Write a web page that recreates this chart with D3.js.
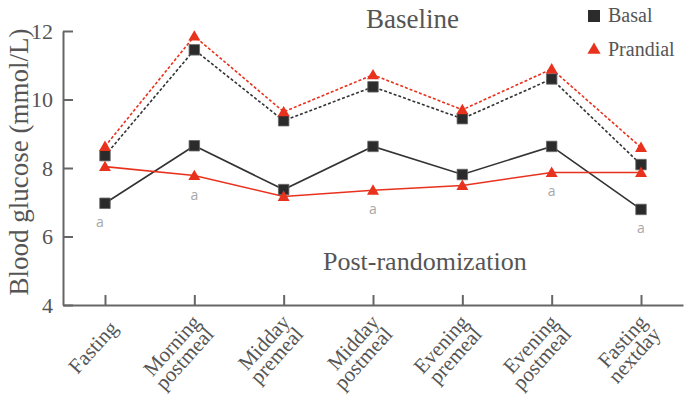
<!DOCTYPE html>
<html>
<head>
<meta charset="utf-8">
<script src="https://cdn.jsdelivr.net/npm/d3@7"></script>
<style>
  body { margin: 0; background: #fff; }
  svg { display: block; }
  text { font-family: "Liberation Serif", "Times New Roman", serif; fill: #555; }
  text.sig { font-family: "Open Sans", sans-serif; fill: #a8a8a8; }
  .axis path, .axis line { stroke: #666; stroke-width: 2; }
  .axis text { font-family: "Liberation Serif", "Times New Roman", serif; fill: #555; }
</style>
</head>
<body>
<svg width="689" height="412"></svg>
<script>
const categories = ["Fasting", "Morning postmeal", "Midday premeal", "Midday postmeal",
  "Evening premeal", "Evening postmeal", "Fasting nextday"]
const basalBaseline = [8.36, 11.45, 9.38, 10.37, 9.44, 10.6, 8.1]
const prandialBaseline = [8.63, 11.85, 9.64, 10.72, 9.7, 10.89, 8.6]
const basalPost = [6.97, 8.65, 7.37, 8.63, 7.81, 8.63, 6.79]
const prandialPost = [8.04, 7.78, 7.17, 7.35, 7.49, 7.87, 7.87]
const yTicks = [4, 6, 8, 10, 12]
// points marked "a" (significant difference)
const sigIdx = [0, 1, 3, 5, 6]

const black = "#2b2b2b"
const red = "#e8321e"

const svg = d3.select("svg")

const x = d3.scalePoint().domain(categories).range([63, 683]).padding(0.47)
const y = d3.scaleLinear().domain([4, 12]).range([305, 31])

// axes, ticks pointing inward
svg.append("g")
  .attr("class", "axis")
  .attr("transform", "translate(63,0)")
  .call(d3.axisLeft(y).tickValues(yTicks).tickSizeInner(-10).tickSizeOuter(0).tickPadding(10))
  .call(g => g.selectAll("text").attr("font-size", 22))

svg.append("g")
  .attr("class", "axis")
  .attr("transform", `translate(0,${y(4)})`)
  .call(d3.axisBottom(x).tickSizeInner(-10).tickSizeOuter(0).tickFormat(""))

// rotated two-line category labels
const lab = svg.append("g").selectAll("text").data(categories).enter().append("text")
  .attr("transform", d => `translate(${x(d) + 14},${y(4) + 24}) rotate(-48)`)
  .attr("text-anchor", "end")
  .attr("font-size", 21)
lab.each(function(d) {
  const lines = d.split(" ")
  const t = d3.select(this)
  lines.forEach((s, i) => {
    t.append("tspan").attr("x", 0)
      .attr("y", (i - (lines.length - 1) / 2) * 18)
      .text(s)
  })
})

svg.append("text")
  .attr("transform", `translate(28,${(y(4) + y(12)) / 2 - 6}) rotate(-90)`)
  .attr("text-anchor", "middle")
  .attr("font-size", 27)
  .text("Blood glucose (mmol/L)")

const line = d3.line()
  .x((d, i) => x(categories[i]))
  .y(d => y(d))

const series = [
  { values: basalBaseline, color: "#333", dash: "3,2", sym: "sq" },
  { values: prandialBaseline, color: red, dash: "3,2", sym: "tri" },
  { values: basalPost, color: "#333", dash: null, sym: "sq" },
  { values: prandialPost, color: red, dash: null, sym: "tri" }
]

const sq = d3.symbol().type(d3.symbolSquare).size(110)
const tri = d3.symbol().type(d3.symbolTriangle).size(62)

series.forEach(s => {
  svg.append("path")
    .attr("d", line(s.values))
    .attr("fill", "none")
    .attr("stroke", s.color)
    .attr("stroke-width", 1.6)
    .attr("stroke-dasharray", s.dash)
})

series.forEach(s => {
  svg.append("g").selectAll("path").data(s.values).enter().append("path")
    .attr("transform", (d, i) => `translate(${x(categories[i])},${y(d) + (s.sym == "tri" ? 1 : 0)})`)
    .attr("d", s.sym == "sq" ? sq() : tri())
    .attr("fill", s.sym == "sq" ? black : red)
    .attr("stroke", s.sym == "sq" ? "#666" : "none")
    .attr("stroke-width", 0.8)
})

// "a" marks under the lower point
svg.append("g").selectAll("text").data(sigIdx).enter().append("text")
  .attr("class", "sig")
  .attr("x", i => x(categories[i]) - (i == 0 ? 5 : 0))
  .attr("y", i => y(Math.min(basalPost[i], prandialPost[i])) + 24)
  .attr("text-anchor", "middle")
  .attr("font-size", 14)
  .text("a")

svg.append("text")
  .attr("x", 366).attr("y", 28)
  .attr("font-size", 27)
  .text("Baseline")

svg.append("text")
  .attr("x", 323).attr("y", 270)
  .attr("font-size", 26)
  .text("Post-randomization")

// legend
const legend = [
  { name: "Basal", sym: "sq", y: 16 },
  { name: "Prandial", sym: "tri", y: 50 }
]
const lg = svg.append("g").selectAll("g").data(legend).enter().append("g")
  .attr("transform", d => `translate(594,${d.y})`)
lg.append("path")
  .attr("d", d => d.sym == "sq" ? d3.symbol().type(d3.symbolSquare).size(144)() : d3.symbol().type(d3.symbolTriangle).size(75)())
  .attr("fill", d => d.sym == "sq" ? black : red)
lg.append("text")
  .attr("x", 14).attr("y", 6)
  .attr("font-size", 20)
  .text(d => d.name)
</script>
</body>
</html>
